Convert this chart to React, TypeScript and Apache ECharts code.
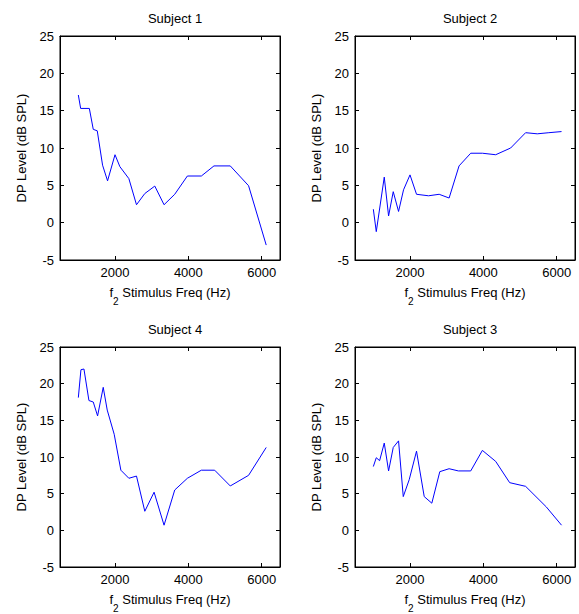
import React, { useEffect, useRef } from "react";
import * as echarts from "echarts";

const titles = ["Subject 1", "Subject 2", "Subject 4", "Subject 3"];

const freq1 = [1000, 1063, 1300, 1407, 1516, 1661, 1797, 2000, 2133, 2378, 2586, 2813, 3085, 3338, 3629, 3974, 4355, 4699, 5144, 5643, 6124];
const level1 = [17.1, 15.3, 15.3, 12.5, 12.3, 7.7, 5.6, 9.1, 7.5, 5.9, 2.4, 3.9, 4.9, 2.4, 3.8, 6.25, 6.25, 7.6, 7.6, 4.95, -3.0];

const freq2 = [1000, 1080, 1298, 1416, 1543, 1688, 1824, 2000, 2178, 2505, 2795, 3067, 3338, 3656, 3974, 4337, 4745, 5153, 5471, 5787, 6133];
const level2 = [1.8, -1.2, 6.1, 0.9, 4.15, 1.5, 4.4, 6.4, 3.8, 3.6, 3.8, 3.3, 7.6, 9.3, 9.3, 9.1, 10.0, 12.05, 11.9, 12.05, 12.2];

const freq4 = [1000, 1071, 1153, 1289, 1407, 1525, 1679, 1788, 1978, 2160, 2378, 2586, 2813, 3066, 3338, 3629, 3974, 4355, 4718, 5144, 5643, 6124];
const level4 = [18.1, 21.9, 22.0, 17.7, 17.5, 15.6, 19.5, 16.4, 13.1, 8.2, 7.1, 7.4, 2.6, 5.2, 0.7, 5.5, 7.1, 8.2, 8.2, 6.05, 7.5, 11.3];

const freq3 = [1000, 1080, 1171, 1298, 1416, 1543, 1688, 1816, 1978, 2178, 2388, 2595, 2813, 3066, 3320, 3656, 3974, 4337, 4718, 5153, 5716, 6133];
const level3 = [8.7, 9.9, 9.5, 11.9, 8.1, 11.3, 12.2, 4.6, 6.9, 10.8, 4.6, 3.7, 8.0, 8.4, 8.1, 8.1, 10.9, 9.4, 6.5, 6.0, 3.2, 0.7];

const xTicks = [2000, 4000, 6000];

const FONT = "Liberation Sans, Arial, Helvetica, sans-serif";

export default function App() {
  const ref = useRef<HTMLDivElement>(null);
  useEffect(() => {
    if (!ref.current) return;
    const chart = echarts.init(ref.current, undefined, { renderer: "svg" });
    const subjects = [
      { f: freq1, v: level1 },
      { f: freq2, v: level2 },
      { f: freq4, v: level4 },
      { f: freq3, v: level3 },
    ];
    const grids = [
      { left: 60, top: 36, width: 220, height: 224 },
      { left: 355, top: 36, width: 220, height: 224 },
      { left: 60, top: 347, width: 220, height: 223 },
      { left: 355, top: 347, width: 220, height: 223 },
    ].map((g) => ({ ...g, show: true, borderColor: "#000", borderWidth: 1, backgroundColor: "transparent" }));
    const xAxes: any[] = [];
    const yAxes: any[] = [];
    const series: any[] = [];
    const titleOpts: any[] = [];
    const axisLine = { show: true, onZero: false, lineStyle: { color: "#000", width: 1 } };
    const tick = { show: true, inside: true, length: 4, lineStyle: { color: "#000" } };
    grids.forEach((g, i) => {
      xAxes.push({
        type: "value",
        gridIndex: i,
        position: "bottom",
        min: 500,
        max: 6500,
        axisLine,
        axisTick: { ...tick, customValues: xTicks },
        splitLine: { show: false },
        axisLabel: {
          color: "#000",
          fontFamily: FONT,
          fontSize: 13,
          margin: 6,
          customValues: xTicks,
          formatter: (val: number) => String(val),
        },
        name: "{a|f}{b|2}{a| Stimulus Freq (Hz)}",
        nameLocation: "middle",
        nameGap: 26,
        nameTextStyle: {
          color: "#000",
          fontFamily: FONT,
          rich: {
            a: { fontSize: 13, fontFamily: FONT, color: "#000", verticalAlign: "top", lineHeight: 15 },
            b: { fontSize: 10, fontFamily: FONT, color: "#000", verticalAlign: "bottom", lineHeight: 20 },
          },
        },
      });
      xAxes.push({
        type: "value",
        gridIndex: i,
        position: "top",
        min: 500,
        max: 6500,
        axisLine,
        axisTick: { ...tick, customValues: xTicks },
        axisLabel: { show: false, customValues: xTicks },
        splitLine: { show: false },
      });
      yAxes.push({
        type: "value",
        gridIndex: i,
        position: "left",
        min: -5,
        max: 25,
        interval: 5,
        axisLine,
        axisTick: tick,
        splitLine: { show: false },
        axisLabel: { color: "#000", fontFamily: FONT, fontSize: 13, margin: 6 },
        name: "DP Level (dB SPL)",
        nameLocation: "middle",
        nameGap: 32,
        nameTextStyle: { color: "#000", fontFamily: FONT, fontSize: 13 },
      });
      yAxes.push({
        type: "value",
        gridIndex: i,
        position: "right",
        min: -5,
        max: 25,
        interval: 5,
        axisLine,
        axisTick: tick,
        axisLabel: { show: false },
        splitLine: { show: false },
      });
      const s = subjects[i];
      series.push({
        type: "line",
        xAxisIndex: i * 2,
        yAxisIndex: i * 2,
        data: s.f.map((f, k) => [f, s.v[k]]),
        showSymbol: false,
        symbol: "none",
        lineStyle: { color: "#0000ff", width: 1 },
        silent: true,
      });
      titleOpts.push({
        text: titles[i],
        left: g.left + g.width / 2,
        top: g.top - 29,
        textAlign: "center",
        textStyle: { color: "#000", fontFamily: FONT, fontSize: 13, fontWeight: "normal" },
      });
    });
    chart.setOption({
      animation: false,
      backgroundColor: "#fff",
      title: titleOpts,
      grid: grids,
      xAxis: xAxes,
      yAxis: yAxes,
      series,
    });
    return () => chart.dispose();
  }, []);
  return (
    <div
      ref={ref}
      style={{ position: "absolute", left: 0, top: 0, width: 579, height: 614 }}
    />
  );
}
